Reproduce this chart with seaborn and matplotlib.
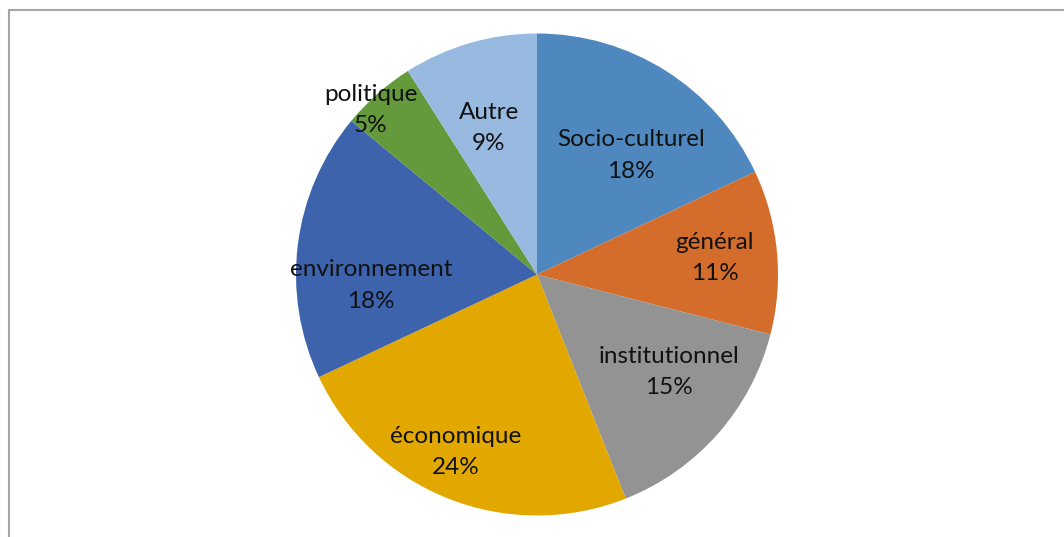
import matplotlib
matplotlib.use("Agg")
import matplotlib.pyplot as plt
import numpy as np
import seaborn as sns
from matplotlib.patches import Rectangle

categories = ["Socio-culturel", "général", "institutionnel", "économique",
              "environnement", "politique", "Autre"]
shares = [18, 11, 15, 24, 18, 5, 9]
pct_labels = ["18%", "11%", "15%", "24%", "18%", "5%", "9%"]
colors = ["#4F88BE", "#D46D2B", "#939393", "#E2A800",
          "#3C63AC", "#64993C", "#98B9E0"]
# radial position of each label as a fraction of the radius
label_radius = [0.63, 0.74, 0.68, 0.81, 0.69, 0.97, 0.64]
label_angle_shift = [-6, 0, 5, -3, 11, 4, 2]

sns.set_theme(style="white")
plt.rcParams["font.family"] = ["Lato", "DejaVu Sans"]

W, H = 1064, 537
cx, cy, r = 537, 274.5, 241
fig = plt.figure(figsize=(W / 100, H / 100), dpi=100)
ax = fig.add_axes([0, 0, 1, 1])
ax.axis("off")

wedges, _ = ax.pie(shares, colors=colors, startangle=90, counterclock=False,
                   radius=1, center=(0, 0), wedgeprops=dict(linewidth=0),
                   frame=False)
ax.set_xlim(-cx / r, (W - cx) / r)
ax.set_ylim(-(H - cy) / r, cy / r)
ax.set_aspect("auto")

total = sum(shares)
start = 90.0
for name, val, pct, rad, shift in zip(categories, shares, pct_labels,
                                       label_radius, label_angle_shift):
    span = 360.0 * val / total
    mid = np.deg2rad(start - span / 2 + shift)
    start -= span
    ax.text(rad * np.cos(mid), rad * np.sin(mid), f"{name}\n{pct}",
            ha="center", va="center", fontsize=17.5, color="#111111",
            linespacing=1.6)

# chart area border
fig.patches.append(Rectangle((9 / W, -0.05), 1.2, (H - 10) / H + 0.05,
                             transform=fig.transFigure, fill=False,
                             edgecolor="#A6A6A6", linewidth=1.5))

fig.savefig("out.png", dpi=100, facecolor="white")
